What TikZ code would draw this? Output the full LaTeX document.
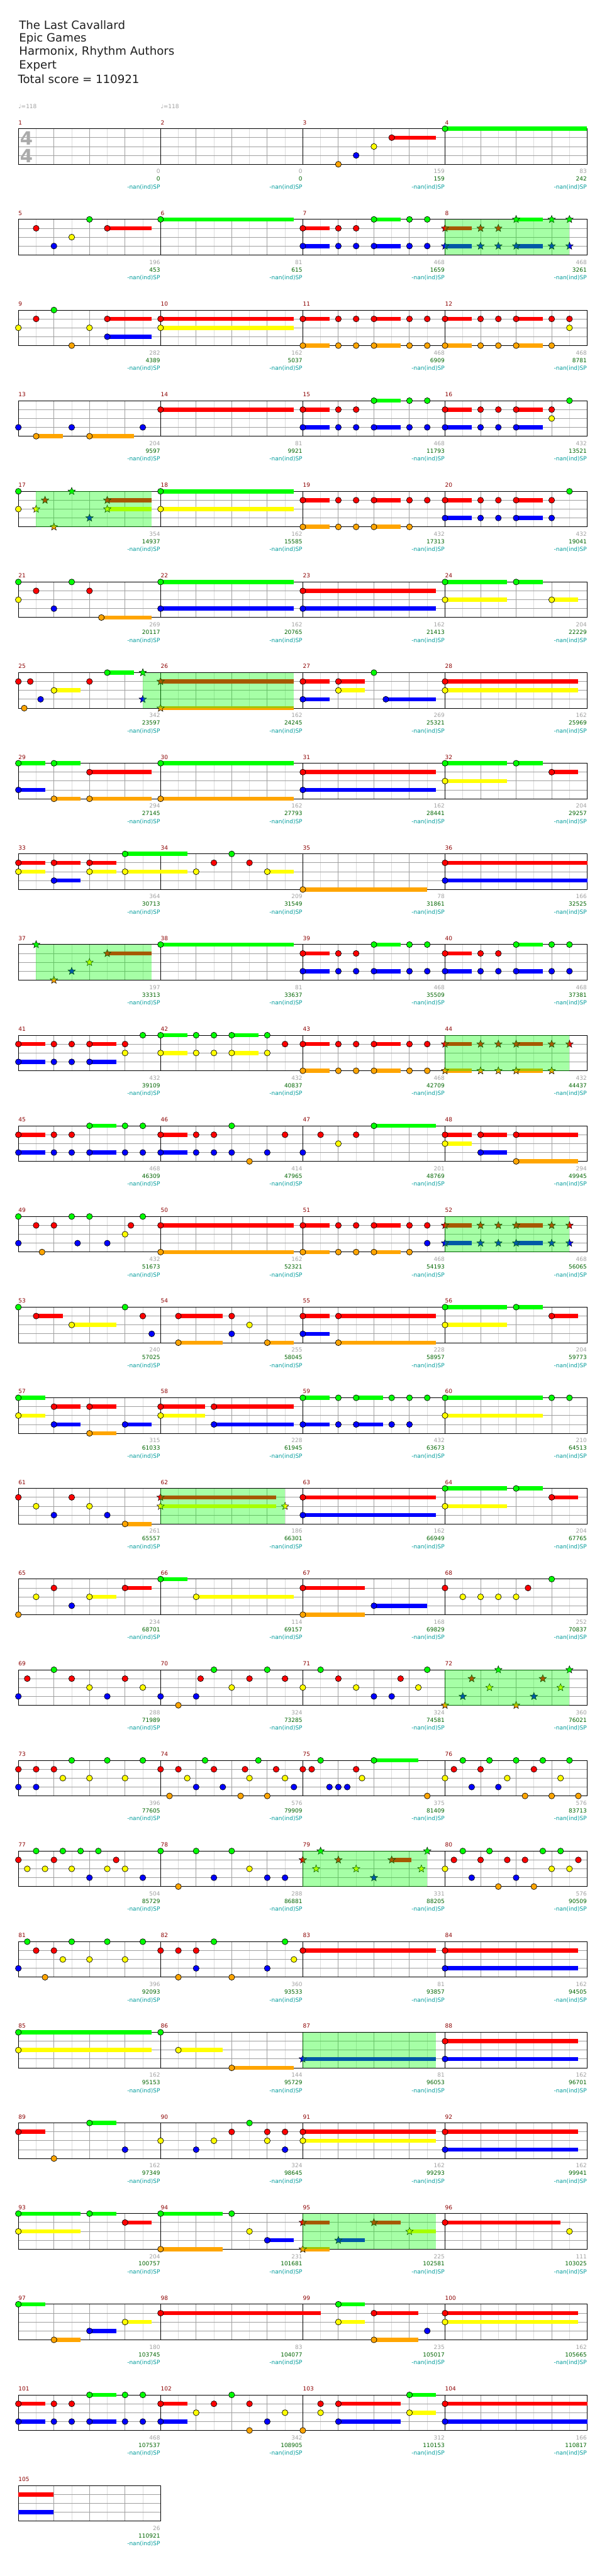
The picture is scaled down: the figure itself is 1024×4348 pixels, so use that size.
\documentclass[tikz,border=0pt]{standalone}
\usepackage{fontspec}
\setmainfont{DejaVu Sans}
\usepackage{tikz}
\usetikzlibrary{shapes.geometric}
\definecolor{CHlane0}{HTML}{00FF00}
\definecolor{CHlane1}{HTML}{FF0000}
\definecolor{CHlane2}{HTML}{FFFF00}
\definecolor{CHlane3}{HTML}{0000FF}
\definecolor{CHlane4}{HTML}{FFA500}
\definecolor{CHGrid}{HTML}{A0A0A0}
\definecolor{CHGridPale}{HTML}{DCDCDC}
\definecolor{CHNumber}{HTML}{8B0000}
\definecolor{CHScore}{HTML}{006400}
\definecolor{CHSpText}{HTML}{009B9B}
\definecolor{CHSigGray}{HTML}{ABABAB}
\definecolor{CHInk}{HTML}{1E1E1E}

% top left corner of measure #1, shifted by #2 eighths -> \cx, \cy
\newcommand{\ChartAt}[2]{%
  \pgfmathsetmacro\cx{31+240*mod(#1-1,4)+30*(#2)}%
  \pgfmathsetmacro\cy{217.3+153*floor((#1-1)/4)}%
}

\begin{document}
\begin{tikzpicture}[x=0.25mm,y=-0.25mm,line cap=butt,
    headline/.style={anchor=west,inner sep=0,text=CHInk,
      font=\fontsize{13.7}{16}\selectfont},
    smalltext/.style={inner sep=0,font=\fontsize{6.8}{8}\selectfont},
    measnum/.style={smalltext,anchor=base west,text=CHNumber},
    gainlabel/.style={smalltext,anchor=base east,text=CHGrid},
    totallabel/.style={smalltext,anchor=base east,text=CHScore},
    splabel/.style={smalltext,anchor=base east,text=CHSpText},
    tempo/.style={smalltext,anchor=west,text=CHGrid},
    timesig/.style={inner sep=0,text=CHSigGray,
      font=\fontsize{22}{22}\bfseries\selectfont},
    gridfine/.style={CHGridPale,line width=0.7pt},
    gridbeat/.style={CHGrid,line width=0.7pt},
    staffframe/.style={black,line width=0.7pt},
    notehead/.style={draw=black,line width=0.5pt},
    notestar/.style={star,star points=5,star point ratio=2.3,
      minimum size=3.3mm,inner sep=0,draw=black,line width=0.4pt},
    spzone/.style={fill=green,fill opacity=0.35}]
  \path[use as bounding box] (0,0) rectangle (1024,4348);

  % Song header
  \node[headline] (song)   at (32,42)  {The Last Cavallard};
  \node[headline] (artist) at (32,65)  {Epic Games};
  \node[headline] (author) at (32,88)  {Harmonix, Rhythm Authors};
  \node[headline] (level)  at (32,111) {Expert};
  \node[headline] (total)  at (30,134) {Total score = 110921};

  \node[tempo] (tempoA) at (31,180)  {♩=118};
  \node[tempo] (tempoB) at (271,180) {♩=118};

  % Notes: measure/eighth/lane/hold (lane 0 green ... 4 orange)
  \def\ChartNotes{%
    3/2/4/0, 3/3/3/0, 3/4/2/0, 3/5/1/2.47, 4/0/0/7.97,
    5/1/1/0, 5/2/3/0, 5/3/2/0, 5/4/0/0, 5/5/1/2.5, 6/0/0/7.5,
    7/0/1/1.5, 7/0/3/1.5, 7/2/1/0, 7/2/3/0, 7/3/1/0, 7/3/3/0,
    7/4/0/1.5, 7/4/3/1.5, 7/6/0/0, 7/6/3/0, 7/7/0/0, 7/7/3/0,
    9/0/2/0, 9/1/1/0, 9/2/0/0, 9/3/4/0, 9/4/2/0, 9/5/1/2.5, 9/5/3/2.5,
    10/0/1/7.5, 10/0/2/7.5,
    11/0/1/1.5, 11/0/4/1.5, 11/2/1/0, 11/2/4/0, 11/3/1/0, 11/3/4/0,
    11/4/1/1.5, 11/4/4/1.5, 11/6/1/0, 11/6/4/0, 11/7/1/0, 11/7/4/0,
    12/0/1/1.5, 12/0/4/1.5, 12/2/1/0, 12/2/4/0, 12/3/1/0, 12/3/4/0,
    12/4/1/1.5, 12/4/4/1.5, 12/6/1/0, 12/6/4/0, 12/7/1/0, 12/7/2/0,
    13/0/3/0, 13/1/4/1.5, 13/3/3/0, 13/4/4/2.5, 13/7/3/0,
    14/0/1/7.5,
    15/0/1/1.5, 15/0/3/1.5, 15/2/1/0, 15/2/3/0, 15/3/1/0, 15/3/3/0,
    15/4/0/1.5, 15/4/3/1.5, 15/6/0/0, 15/6/3/0, 15/7/0/0, 15/7/3/0,
    16/0/1/1.5, 16/0/3/1.5, 16/2/1/0, 16/2/3/0, 16/3/1/0, 16/3/3/0,
    16/4/1/1.5, 16/4/3/1.5, 16/6/1/0, 16/6/2/0, 16/7/0/0,
    17/0/0/0, 17/0/2/0, 18/0/0/7.5, 18/0/2/7.5,
    19/0/1/1.5, 19/0/4/1.5, 19/2/1/0, 19/2/4/0, 19/3/1/0, 19/3/4/0,
    19/4/1/1.5, 19/4/4/1.5, 19/6/1/0, 19/6/4/0, 19/7/1/0,
    20/0/1/1.5, 20/0/3/1.5, 20/2/1/0, 20/2/3/0, 20/3/1/0, 20/3/3/0,
    20/4/1/1.5, 20/4/3/1.5, 20/6/1/0, 20/6/3/0, 20/7/0/0,
    21/0/0/0, 21/0/2/0, 21/1/1/0, 21/2/3/0, 21/3/0/0, 21/4/1/0,
    21/4.67/4/2.83, 22/0/0/7.5, 22/0/3/7.5, 23/0/1/7.5, 23/0/3/7.5,
    24/0/0/3.5, 24/0/2/3.5, 24/4/0/1.5, 24/6/2/1.5,
    25/0/1/0, 25/0.33/4/0, 25/0.67/1/0, 25/1.25/3/0, 25/2/2/1.5,
    25/4/1/0, 25/5/0/1.5,
    27/0/1/1.5, 27/0/3/1.5, 27/2/1/1.5, 27/2/2/1.5, 27/4/0/0,
    27/4.67/3/2.83, 28/0/1/7.5, 28/0/2/7.5,
    29/0/0/1.5, 29/0/3/1.5, 29/2/0/1.5, 29/2/4/1.5, 29/4/1/3.5,
    29/4/4/3.5, 30/0/0/7.5, 30/0/4/7.5, 31/0/1/7.5, 31/0/3/7.5,
    32/0/0/3.5, 32/0/2/3.5, 32/4/0/1.5, 32/6/1/1.5,
    33/0/1/1.5, 33/0/2/1.5, 33/2/1/1.5, 33/2/3/1.5, 33/4/1/1.5,
    33/4/2/1.5, 33/6/0/3.5, 33/6/2/3.5,
    34/2/2/0, 34/3/1/0, 34/4/0/0, 34/5/1/0, 34/6/2/1.5,
    35/0/4/7, 36/0/1/8, 36/0/3/8,
    38/0/0/7.5,
    39/0/1/1.5, 39/0/3/1.5, 39/2/1/0, 39/2/3/0, 39/3/1/0, 39/3/3/0,
    39/4/0/1.5, 39/4/3/1.5, 39/6/0/0, 39/6/3/0, 39/7/0/0, 39/7/3/0,
    40/0/1/1.5, 40/0/3/1.5, 40/2/1/0, 40/2/3/0, 40/3/1/0, 40/3/3/0,
    40/4/0/1.5, 40/4/3/1.5, 40/6/0/0, 40/6/3/0, 40/7/0/0, 40/7/3/0,
    41/0/1/1.5, 41/0/3/1.5, 41/2/1/0, 41/2/3/0, 41/3/1/0, 41/3/3/0,
    41/4/1/1.5, 41/4/3/1.5, 41/6/1/0, 41/6/2/0, 41/7/0/0,
    42/0/0/1.5, 42/0/2/1.5, 42/2/0/0, 42/2/2/0, 42/3/0/0, 42/3/2/0,
    42/4/0/1.5, 42/4/2/1.5, 42/6/0/0, 42/6/2/0, 42/7/1/0,
    43/0/1/1.5, 43/0/4/1.5, 43/2/1/0, 43/2/4/0, 43/3/1/0, 43/3/4/0,
    43/4/1/1.5, 43/4/4/1.5, 43/6/1/0, 43/6/4/0, 43/7/1/0, 43/7/4/0,
    45/0/1/1.5, 45/0/3/1.5, 45/2/1/0, 45/2/3/0, 45/3/1/0, 45/3/3/0,
    45/4/0/1.5, 45/4/3/1.5, 45/6/0/0, 45/6/3/0, 45/7/0/0, 45/7/3/0,
    46/0/1/1.5, 46/0/3/1.5, 46/2/1/0, 46/2/3/0, 46/3/1/0, 46/3/3/0,
    46/4/0/0, 46/4/3/0, 46/5/4/0, 46/6/3/0, 46/7/1/0,
    47/0/3/0, 47/1/1/0, 47/2/2/0, 47/3/1/0, 47/4/0/3.5,
    48/0/1/1.5, 48/0/2/1.5, 48/2/1/1.5, 48/2/3/1.5, 48/4/1/3.5,
    48/4/4/3.5,
    49/0/0/0, 49/0/3/0, 49/1/1/0, 49/1.33/4/0, 49/2/1/0, 49/3/0/0,
    49/3.33/3/0, 49/4/0/0, 49/5/3/0, 49/6/2/0, 49/6.33/1/0, 49/7/0/0,
    50/0/1/7.5, 50/0/4/7.5,
    51/0/1/1.5, 51/0/4/1.5, 51/2/1/0, 51/2/4/0, 51/3/1/0, 51/3/4/0,
    51/4/1/1.5, 51/4/4/1.5, 51/6/1/0, 51/6/4/0, 51/7/1/0, 51/7/3/0,
    53/0/0/0, 53/1/1/1.5, 53/3/2/2.5, 53/6/0/0, 53/7/1/0, 53/7.5/3/0,
    54/1/1/2.5, 54/1/4/2.5, 54/4/1/0, 54/4/3/0, 54/5/2/0, 54/6/4/1.5,
    55/0/1/1.5, 55/0/3/1.5, 55/2/1/5.5, 55/2/4/5.5,
    56/0/0/3.5, 56/0/2/3.5, 56/4/0/1.5, 56/6/1/1.5,
    57/0/0/1.5, 57/0/2/1.5, 57/2/1/1.5, 57/2/3/1.5, 57/4/1/1.5,
    57/4/4/1.5, 57/6/3/1.5,
    58/0/1/2.5, 58/0/2/2.5, 58/3/1/4.5, 58/3/3/4.5,
    59/0/0/1.5, 59/0/3/1.5, 59/2/0/0, 59/2/3/0, 59/3/0/1.5, 59/3/3/1.5,
    59/5/0/0, 59/5/3/0, 59/6/0/0, 59/6/3/0, 59/7/0/0,
    60/0/0/5.5, 60/0/2/5.5, 60/6/0/0, 60/7/0/0,
    61/0/1/0, 61/1/2/0, 61/2/3/0, 61/3/1/0, 61/4/2/0, 61/5/3/0,
    61/6/4/1.5, 63/0/1/7.5, 63/0/3/7.5,
    64/0/0/3.5, 64/0/2/3.5, 64/4/0/1.5, 64/6/1/1.5,
    65/0/4/0, 65/1/2/0, 65/2/1/0, 65/3/3/0, 65/4/2/1.5, 65/6/1/1.5,
    66/0/0/1.5, 66/2/2/5.5, 67/0/1/3.5, 67/0/4/3.5, 67/4/3/3,
    68/0/1/0, 68/1/2/0, 68/2/2/0, 68/3/2/0, 68/4/2/0, 68/4.67/1/0,
    68/6/0/0,
    69/0/3/0, 69/0.5/1/0, 69/2/0/0, 69/3/1/0, 69/4/2/0, 69/5/3/0,
    69/6/1/0, 69/7/2/0,
    70/0/3/0, 70/1/4/0, 70/2/3/0, 70/2.25/1/0, 70/3/0/0, 70/4/2/0,
    70/5/1/0, 70/6/0/0, 70/7/1/0,
    71/0/2/0, 71/1/0/0, 71/2/1/0, 71/3/2/0, 71/4/3/0, 71/5/3/0,
    71/5.5/1/0, 71/6.5/2/0, 71/7/0/0,
    73/0/1/0, 73/0/3/0, 73/1/1/0, 73/1/3/0, 73/2/1/0, 73/2.5/2/0,
    73/3/0/0, 73/4/2/0, 73/5/0/0, 73/6/2/0, 73/7/0/0,
    74/0/1/0, 74/0.5/4/0, 74/1/1/0, 74/1.5/2/0, 74/2/3/0, 74/2.5/0/0,
    74/3/1/0, 74/3.5/3/0, 74/4.5/4/0, 74/4.75/1/0, 74/5/2/0,
    74/5.5/0/0, 74/6/4/0, 74/6.5/1/0, 74/7/2/0, 74/7.5/3/0,
    75/0/1/0, 75/0.5/1/0, 75/1/0/0, 75/1.5/3/0, 75/2/3/0, 75/2.5/3/0,
    75/3/1/0, 75/3.33/2/0, 75/4/0/2.5, 75/7/4/0,
    76/0/2/0, 76/0.5/1/0, 76/1/0/0, 76/1.5/3/0, 76/2/1/0, 76/2.5/0/0,
    76/3/3/0, 76/3.5/2/0, 76/4/0/0, 76/4.5/4/0, 76/5/1/0, 76/5.5/0/0,
    76/6/4/0, 76/6.5/2/0, 76/7/0/0, 76/7.5/4/0,
    77/0/1/0, 77/0.5/2/0, 77/1/0/0, 77/1.5/2/0, 77/2/1/0, 77/2.5/0/0,
    77/3/2/0, 77/3.5/0/0, 77/4/3/0, 77/4.5/0/0, 77/5/2/0, 77/5.5/1/0,
    77/6/2/0, 77/7/3/0,
    78/0/0/0, 78/1/4/0, 78/2/0/0, 78/3/3/0, 78/4/0/0, 78/5/2/0,
    78/6/3/0, 78/7/3/0,
    80/0/2/0, 80/0.5/1/0, 80/1/0/0, 80/1.5/3/0, 80/2/1/0, 80/2.5/0/0,
    80/3/4/0, 80/3.5/1/0, 80/4/3/0, 80/4.5/1/0, 80/5/4/0, 80/5.5/0/0,
    80/6/2/0, 80/6.5/0/0, 80/7/2/0, 80/7.5/1/0,
    81/0/3/0, 81/0.5/0/0, 81/1/1/0, 81/1.5/4/0, 81/2/1/0, 81/2.5/2/0,
    81/3/0/0, 81/4/2/0, 81/5/0/0, 81/6/2/0, 81/7/0/0,
    82/0/1/0, 82/1/1/0, 82/1/4/0, 82/2/1/0, 82/2/3/0, 82/3/0/0,
    82/4/4/0, 82/6/3/0, 82/7/0/0, 82/7.5/2/0,
    83/0/1/7.5, 84/0/1/7.5, 84/0/3/7.5,
    85/0/0/7.5, 85/0/2/7.5, 86/0/0/0, 86/1/2/2.5, 86/4/4/3.5,
    88/0/1/7.5, 88/0/3/7.5,
    89/0/1/1.5, 89/2/4/0, 89/4/0/1.5, 89/6/3/0,
    90/0/2/0, 90/2/3/0, 90/3/2/0, 90/4/1/0, 90/5/0/0, 90/6/1/0,
    90/6/2/0, 90/7/1/0, 90/7/3/0,
    91/0/1/7.5, 91/0/2/7.5, 92/0/1/7.5, 92/0/3/7.5,
    93/0/0/3.5, 93/0/2/3.5, 93/4/0/1.5, 93/6/1/1.5,
    94/0/0/3.5, 94/0/4/3.5, 94/4/0/0, 94/5/2/0, 94/6/3/1.5,
    96/0/1/6.5, 96/7/2/0,
    97/0/0/1.5, 97/2/4/1.5, 97/4/3/1.5, 97/6/2/1.5, 98/0/1/9,
    99/2/0/1.5, 99/2/2/1.5, 99/4/1/2.5, 99/4/4/2.5, 99/7/3/0,
    100/0/1/7.5, 100/0/2/7.5,
    101/0/1/1.5, 101/0/3/1.5, 101/2/1/0, 101/2/3/0, 101/3/1/0,
    101/3/3/0, 101/4/0/1.5, 101/4/3/1.5, 101/6/0/0, 101/6/3/0,
    101/7/0/0, 101/7/3/0,
    102/0/1/1.5, 102/0/3/1.5, 102/2/2/0, 102/3/1/0, 102/4/0/0,
    102/5/1/0, 102/5/4/0, 102/6/3/0, 102/7/2/0,
    103/0/4/0, 103/1/1/0, 103/1/2/0, 103/2/1/3.5, 103/2/3/3.5,
    103/6/0/1.5, 103/6/2/1.5, 104/0/1/8, 104/0/3/8}

  % Star power notes, same fields
  \def\ChartStars{%
    8/0/1/1.5, 8/0/3/1.5, 8/2/1/0, 8/2/3/0, 8/3/1/0, 8/3/3/0,
    8/4/0/1.5, 8/4/3/1.5, 8/6/0/0, 8/6/3/0, 8/7/0/0, 8/7/3/0,
    17/1/2/0, 17/1.5/1/0, 17/2/4/0, 17/3/0/0, 17/4/3/0, 17/5/1/2.5,
    17/5/2/2.5, 25/7/0/0, 25/7/3/0, 26/0/1/7.5, 26/0/4/7.5,
    37/1/0/0, 37/2/4/0, 37/3/3/0, 37/4/2/0, 37/5/1/2.5,
    44/0/1/1.5, 44/0/4/1.5, 44/2/1/0, 44/2/4/0, 44/3/1/0, 44/3/4/0,
    44/4/1/1.5, 44/4/4/1.5, 44/6/1/0, 44/6/4/0, 44/7/1/0,
    52/0/1/1.5, 52/0/3/1.5, 52/2/1/0, 52/2/3/0, 52/3/1/0, 52/3/3/0,
    52/4/1/1.5, 52/4/3/1.5, 52/6/1/0, 52/6/3/0, 52/7/1/0, 52/7/3/0,
    62/0/1/6.5, 62/0/2/6.5, 62/7/2/0,
    72/0/4/0, 72/1/3/0, 72/1.5/1/0, 72/2.5/2/0, 72/3/0/0, 72/4/4/0,
    72/5/3/0, 72/5.5/1/0, 72/6.5/2/0, 72/7/0/0,
    79/0/1/0, 79/0.75/2/0, 79/1/0/0, 79/2/1/0, 79/3/2/0, 79/4/3/0,
    79/5/1/1.1, 79/6.67/2/0, 79/7/0/0,
    87/0/3/7.5,
    95/0/1/1.5, 95/0/4/1.5, 95/2/3/1.5, 95/4/1/1.5, 95/6/2/1.5}

  % Star power phrases: measure/start/length in eighths
  \def\ChartPhrases{8/0/7, 17/1/6.5, 25/7/8.5, 37/1/6.5, 44/0/7,
    52/0/7, 62/0/7, 72/0/7, 79/0/7, 87/0/7.5, 95/0/7.5}

  % Per measure: gained / running score
  \def\ChartScores{%
    1/0/0, 2/0/0, 3/159/159, 4/83/242, 5/196/453, 6/81/615,
    7/468/1659, 8/468/3261, 9/282/4389, 10/162/5037, 11/468/6909,
    12/468/8781, 13/204/9597, 14/81/9921, 15/468/11793, 16/432/13521,
    17/354/14937, 18/162/15585, 19/432/17313, 20/432/19041,
    21/269/20117, 22/162/20765, 23/162/21413, 24/204/22229,
    25/342/23597, 26/162/24245, 27/269/25321, 28/162/25969,
    29/294/27145, 30/162/27793, 31/162/28441, 32/204/29257,
    33/364/30713, 34/209/31549, 35/78/31861, 36/166/32525,
    37/197/33313, 38/81/33637, 39/468/35509, 40/468/37381,
    41/432/39109, 42/432/40837, 43/468/42709, 44/432/44437,
    45/468/46309, 46/414/47965, 47/201/48769, 48/294/49945,
    49/432/51673, 50/162/52321, 51/468/54193, 52/468/56065,
    53/240/57025, 54/255/58045, 55/228/58957, 56/204/59773,
    57/315/61033, 58/228/61945, 59/432/63673, 60/210/64513,
    61/261/65557, 62/186/66301, 63/162/66949, 64/204/67765,
    65/234/68701, 66/114/69157, 67/168/69829, 68/252/70837,
    69/288/71989, 70/324/73285, 71/324/74581, 72/360/76021,
    73/396/77605, 74/576/79909, 75/375/81409, 76/576/83713,
    77/504/85729, 78/288/86881, 79/331/88205, 80/576/90509,
    81/396/92093, 82/360/93533, 83/81/93857, 84/162/94505,
    85/162/95153, 86/144/95729, 87/81/96053, 88/162/96701,
    89/162/97349, 90/324/98645, 91/162/99293, 92/162/99941,
    93/204/100757, 94/231/101681, 95/225/102581, 96/111/103025,
    97/180/103745, 98/83/104077, 99/235/105017, 100/162/105665,
    101/468/107537, 102/342/108905, 103/312/110153, 104/166/110817,
    105/26/110921}

  % Staff grid, one measure at a time
  \foreach \meas in {1,...,105} {
    \ChartAt{\meas}{0}
    \foreach \i in {1,3,5,7}
      \draw[gridfine] (\cx+30*\i,\cy) -- ++(0,60);
    \foreach \i in {2,4,6}
      \draw[gridbeat] (\cx+30*\i,\cy) -- ++(0,60);
    \foreach \j in {15,30,45}
      \draw[gridbeat] (\cx,\cy+\j) -- ++(240,0);
  }
  \node[timesig] (sigTop) at (44.7,233)   {4};
  \node[timesig] (sigBot) at (44.7,263.3) {4};
  \foreach \meas in {1,...,105} {
    \ChartAt{\meas}{0}
    \draw[staffframe] (\cx,\cy) rectangle ++(240,60);
    \node[measnum] (num\meas) at (\cx,\cy-7) {\meas};
  }

  % Sustains under the heads
  \foreach \meas/\pos/\lane/\hold in \ChartNotes {
    \ifdim\hold pt>0pt
      \ChartAt{\meas}{\pos}
      \fill[CHlane\lane] (\cx,\cy+15*\lane-3.5) rectangle ++(30*\hold,7);
    \fi
  }
  \foreach \meas/\pos/\lane/\hold in \ChartStars {
    \ifdim\hold pt>0pt
      \ChartAt{\meas}{\pos}
      \fill[CHlane\lane] (\cx,\cy+15*\lane-3.5) rectangle ++(30*\hold,7);
    \fi
  }
  % held over from measure 104
  \ChartAt{105}{0}
  \fill[CHlane1] (\cx,\cy+11.5) rectangle ++(59,7);
  \fill[CHlane3] (\cx,\cy+41.5) rectangle ++(59,7);

  % Heads
  \foreach \meas/\pos/\lane/\hold in \ChartNotes {
    \ChartAt{\meas}{\pos}
    \filldraw[notehead,fill=CHlane\lane] (\cx,\cy+15*\lane) circle[radius=5];
  }
  \foreach \meas/\pos/\lane/\hold in \ChartStars {
    \ChartAt{\meas}{\pos}
    \path (\cx,\cy+15*\lane) node[notestar,fill=CHlane\lane] {};
  }

  % Star power phrases tint everything below them
  \foreach \meas/\pos/\len in \ChartPhrases {
    \ChartAt{\meas}{\pos}
    \fill[spzone] (\cx,\cy) rectangle ++(30*\len,60);
  }

  % Scores under each measure
  \foreach \meas/\gain/\tot in \ChartScores {
    \ChartAt{\meas}{8}
    \node[gainlabel]  (gain\meas) at (\cx-0.5,\cy+75.6)  {\gain};
    \node[totallabel] (tot\meas)  at (\cx-0.5,\cy+88.3)  {\tot};
    \node[splabel]    (sp\meas)   at (\cx-0.5,\cy+101.6) {-nan(ind)SP};
  }
\end{tikzpicture}
\end{document}
